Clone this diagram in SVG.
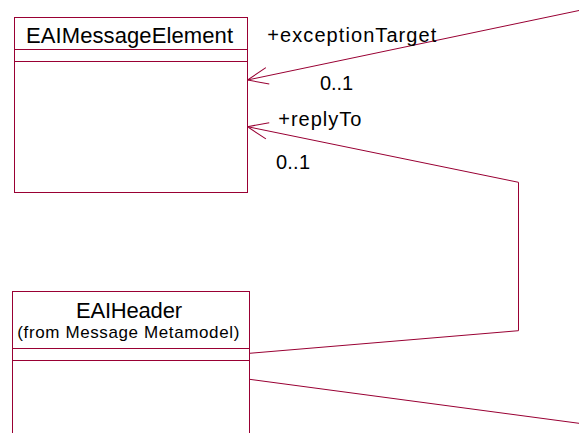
<svg xmlns="http://www.w3.org/2000/svg" width="579" height="433" viewBox="0 0 579 433">
<style>
.box{fill:#ffffff;stroke:#990033;stroke-width:1}
.ln{fill:none;stroke:#990033;stroke-width:1}
.t{font-family:"Liberation Sans",Arial,sans-serif;fill:#000000}
</style>
<defs>
<marker id="open" markerUnits="userSpaceOnUse" markerWidth="30" markerHeight="30" viewBox="-25 -15 30 30" refX="0" refY="0" orient="auto" overflow="visible">
<path d="M -20.5,-8.3 L 0,0 L -20.5,8.3" fill="none" stroke="#990033" stroke-width="1"/>
</marker>
</defs>
<rect width="579" height="433" fill="#ffffff"/>
<g id="connectors">
<path class="ln" d="M 579,10.5 L 247.5,80" marker-end="url(#open)"/>
<path class="ln" d="M 249.5,353.3 L 518.5,330.7 L 518.5,182.3 L 247.5,126.7" marker-end="url(#open)"/>
<path class="ln" d="M 249.5,379.3 L 579,423.3"/>
<text class="t" x="267.3" y="41.5" font-size="20" textLength="169" lengthAdjust="spacing">+exceptionTarget</text>
<text class="t" x="320" y="90" font-size="20" textLength="33" lengthAdjust="spacing">0..1</text>
<text class="t" x="278.3" y="125.7" font-size="20" textLength="83" lengthAdjust="spacing">+replyTo</text>
<text class="t" x="276" y="168.5" font-size="20" textLength="34" lengthAdjust="spacing">0..1</text>
</g>
<g id="EAIMessageElement">
<rect class="box" x="14.5" y="17.5" width="233" height="175"/>
<line class="ln" x1="14.5" y1="49.5" x2="247.5" y2="49.5"/>
<line class="ln" x1="14.5" y1="61.5" x2="247.5" y2="61.5"/>
<text class="t" x="26" y="42.5" font-size="22" textLength="207" lengthAdjust="spacing">EAIMessageElement</text>
</g>
<g id="EAIHeader">
<rect class="box" x="12.5" y="291.5" width="237" height="160"/>
<line class="ln" x1="12.5" y1="348.5" x2="249.5" y2="348.5"/>
<line class="ln" x1="12.5" y1="360.5" x2="249.5" y2="360.5"/>
<text class="t" x="76" y="318.3" font-size="22" textLength="106" lengthAdjust="spacing">EAIHeader</text>
<text class="t" x="17.3" y="338" font-size="17" textLength="222" lengthAdjust="spacing">(from Message Metamodel)</text>
</g>
</svg>
